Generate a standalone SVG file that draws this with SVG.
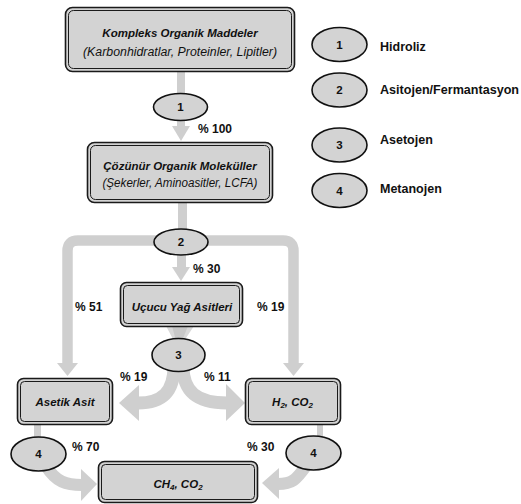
<svg xmlns="http://www.w3.org/2000/svg" width="521" height="504" viewBox="0 0 521 504">
<style>
.bg{fill:#ffffff}
.conn{fill:none;stroke:#cfcfcf;stroke-linecap:butt}
.head{fill:#cfcfcf;stroke:none}
.outer{fill:#d3d3d3;stroke:#1a1a1a;stroke-width:1.6}
.inner{fill:none;stroke:#1a1a1a;stroke-width:1}
.ell{fill:#d3d3d3;stroke:#111111;stroke-width:1.6}
.t{font-family:"Liberation Sans",Arial,sans-serif;fill:#111111}
.bi{font-weight:bold;font-style:italic;font-size:11.5px}
.it{font-style:italic;font-size:12px}
.num{font-weight:bold;font-size:11.5px}
.pct{font-weight:bold;font-size:12px}
.leg{font-weight:bold;font-size:12.5px}
</style>
<rect class="bg" x="0" y="0" width="521" height="504"/>

<g id="connectors">
  <!-- box1 -> ellipse1 -->
  <rect class="head" x="177" y="71" width="8" height="24"/>
  <!-- ellipse1 -> box2 -->
  <rect class="head" x="177" y="118" width="8" height="10"/>
  <polygon class="head" points="172,126 190,126 181,141"/>
  <!-- box2 -> ellipse2 -->
  <rect class="head" x="178" y="202" width="9" height="29"/>
  <!-- big band -->
  <path class="conn" stroke-width="10.5" d="M67.5,366 V251 Q67.5,240.5 78,240.5 H283 Q293.5,240.5 293.5,251 V366"/>
  <polygon class="head" points="57,363 78,363 67.5,376"/>
  <polygon class="head" points="283,363 304,363 293.5,376"/>
  <!-- ellipse2 -> box3 -->
  <rect class="head" x="177" y="253" width="9" height="16"/>
  <polygon class="head" points="172,267 190,267 181,281"/>
  <!-- box3 -> ellipse3 funnel -->
  <polygon points="166,326 194,326 184,341 174,341" fill="#d9d9d9"/>
  <polygon points="172,326 188,326 182,341 176,341" fill="#c8c8c8"/>
  <!-- ellipse3 -> Asetik Asit -->
  <path class="conn" stroke-width="13" d="M174,366 C174,392 162,403 138,403"/>
  <polygon class="head" points="139,385 139,421 119,403"/>
  <!-- ellipse3 -> H2,CO2 -->
  <path class="conn" stroke-width="13" d="M183,366 C183,392 197,403 227,403"/>
  <polygon class="head" points="226,384 226,421 245,403"/>
  <!-- Asetik -> ellipse4 left -->
  <rect class="head" x="34" y="424" width="7" height="15"/>
  <!-- H2 -> ellipse4 right -->
  <rect class="head" x="317" y="424" width="6" height="15"/>
  <!-- ellipse4 left -> CH4 -->
  <path class="conn" stroke-width="12" d="M46,466 C56,482 66,485 82,485"/>
  <polygon class="head" points="81,469 81,501 97,484"/>
  <!-- ellipse4 right -> CH4 -->
  <path class="conn" stroke-width="12" d="M306,466 C296,480 292,484 278,484"/>
  <polygon class="head" points="279,468 279,499 262,483"/>
</g>

<g id="node-kompleks">
  <rect class="outer" x="65.5" y="7.5" width="229" height="64" rx="7"/>
  <rect class="inner" x="68.5" y="10.5" width="223" height="58" rx="5"/>
  <text class="t bi" x="180" y="37" text-anchor="middle">Kompleks Organik Maddeler</text>
  <text class="t it" x="180" y="56" text-anchor="middle" textLength="194" lengthAdjust="spacingAndGlyphs">(Karbonhidratlar, Proteinler, Lipitler)</text>
</g>

<g id="node-e1">
  <ellipse class="ell" cx="180.5" cy="107" rx="27" ry="13.5"/>
  <text class="t num" x="180.5" y="111" text-anchor="middle">1</text>
</g>

<g id="node-cozunur">
  <rect class="outer" x="87.5" y="142.5" width="185" height="60" rx="7"/>
  <rect class="inner" x="90.5" y="145.5" width="179" height="54" rx="5"/>
  <text class="t bi" x="180" y="170" text-anchor="middle">Çözünür Organik Moleküller</text>
  <text class="t it" x="180" y="187" text-anchor="middle" textLength="155" lengthAdjust="spacingAndGlyphs">(Şekerler, Aminoasitler, LCFA)</text>
</g>

<g id="node-e2">
  <ellipse class="ell" cx="181" cy="242" rx="27" ry="13"/>
  <text class="t num" x="181" y="246" text-anchor="middle">2</text>
</g>

<g id="node-ucucu">
  <rect class="outer" x="120.5" y="282.5" width="122" height="44" rx="6"/>
  <rect class="inner" x="123.5" y="285.5" width="116" height="38" rx="4"/>
  <text class="t bi" x="182" y="311" text-anchor="middle">Uçucu Yağ Asitleri</text>
</g>

<g id="node-e3">
  <ellipse class="ell" cx="178.5" cy="355" rx="26.5" ry="16.5"/>
  <text class="t num" x="178.5" y="359" text-anchor="middle">3</text>
</g>

<g id="node-asetik">
  <rect class="outer" x="17.5" y="378.5" width="95" height="46" rx="6"/>
  <rect class="inner" x="20.5" y="381.5" width="89" height="40" rx="4"/>
  <text class="t bi" x="65" y="406" text-anchor="middle">Asetik Asit</text>
</g>

<g id="node-h2">
  <rect class="outer" x="245.5" y="378.5" width="95" height="46" rx="6"/>
  <rect class="inner" x="248.5" y="381.5" width="89" height="40" rx="4"/>
  <text class="t bi" x="292.5" y="406" text-anchor="middle">H<tspan font-size="8" dy="2">2</tspan><tspan dy="-2">, CO</tspan><tspan font-size="8" dy="2">2</tspan></text>
</g>

<g id="node-e4-left">
  <ellipse class="ell" cx="38.5" cy="454" rx="27.5" ry="17"/>
  <text class="t num" x="38.5" y="458" text-anchor="middle">4</text>
</g>

<g id="node-e4-right">
  <ellipse class="ell" cx="313.5" cy="453" rx="27.5" ry="17"/>
  <text class="t num" x="313.5" y="457" text-anchor="middle">4</text>
</g>

<g id="node-ch4">
  <rect class="outer" x="98.5" y="461.5" width="159" height="41" rx="6"/>
  <rect class="inner" x="101.5" y="464.5" width="153" height="35" rx="4"/>
  <text class="t bi" x="178" y="488" text-anchor="middle">CH<tspan font-size="8" dy="2">4</tspan><tspan dy="-2">, CO</tspan><tspan font-size="8" dy="2">2</tspan></text>
</g>

<g id="labels">
  <text class="t pct" x="198" y="133">% 100</text>
  <text class="t pct" x="193" y="273">% 30</text>
  <text class="t pct" x="75" y="311">% 51</text>
  <text class="t pct" x="257" y="311">% 19</text>
  <text class="t pct" x="120" y="381">% 19</text>
  <text class="t pct" x="204" y="381">% 11</text>
  <text class="t pct" x="72" y="451">% 70</text>
  <text class="t pct" x="247" y="451">% 30</text>
</g>

<g id="legend">
  <g id="legend-1">
    <ellipse class="ell" cx="339.5" cy="44.5" rx="27.5" ry="17"/>
    <text class="t num" x="339.5" y="48.5" text-anchor="middle">1</text>
    <text class="t leg" x="380" y="51">Hidroliz</text>
  </g>
  <g id="legend-2">
    <ellipse class="ell" cx="339.5" cy="90" rx="27.5" ry="17"/>
    <text class="t num" x="339.5" y="94" text-anchor="middle">2</text>
    <text class="t leg" x="380" y="94" textLength="139" lengthAdjust="spacingAndGlyphs">Asitojen/Fermantasyon</text>
  </g>
  <g id="legend-3">
    <ellipse class="ell" cx="339.5" cy="145" rx="27.5" ry="17"/>
    <text class="t num" x="339.5" y="149" text-anchor="middle">3</text>
    <text class="t leg" x="380" y="144">Asetojen</text>
  </g>
  <g id="legend-4">
    <ellipse class="ell" cx="339.5" cy="190.5" rx="27.5" ry="17"/>
    <text class="t num" x="339.5" y="194.5" text-anchor="middle">4</text>
    <text class="t leg" x="380" y="193">Metanojen</text>
  </g>
</g>
</svg>
